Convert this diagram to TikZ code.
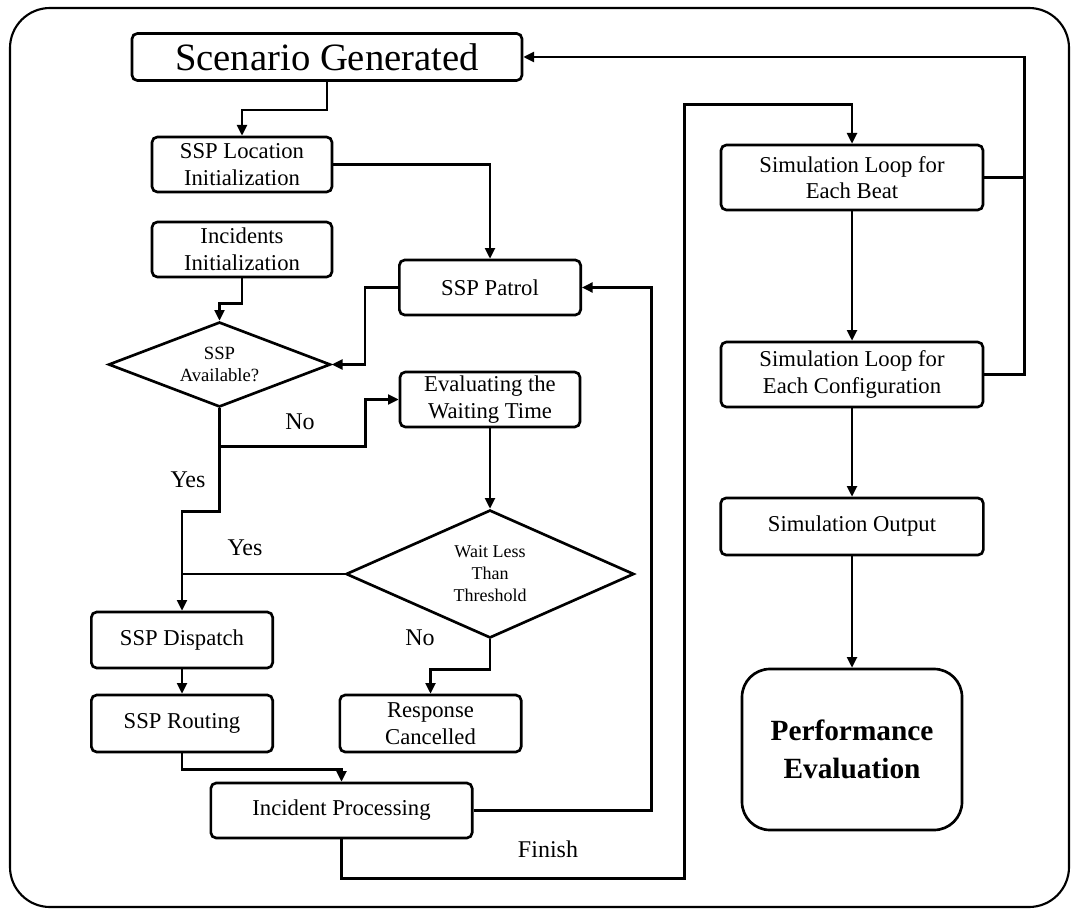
\documentclass[tikz,border=0pt]{standalone}
\usepackage{fontspec}
\setmainfont{Liberation Serif}
\usetikzlibrary{shapes.geometric,arrows.meta,calc}
\tikzset{
  flowbox/.style={draw, line width=2pt, rounded corners=4pt, align=center, inner sep=0pt, font=\fontsize{17}{20}\selectfont},
  choice/.style={draw, diamond, line width=2pt, align=center, inner sep=0pt},
  link/.style={line width=1.8pt, -{Triangle[length=8pt,width=7.5pt]}},
  tag/.style={font=\fontsize{18}{20}\selectfont},
}
\begin{document}
\begin{tikzpicture}[x=0.75pt, y=-0.75pt]
  \useasboundingbox (0,0) rectangle (1073,909);
  % Outer frame
  \draw[line width=1.6pt, rounded corners=30pt] (10,8) rectangle (1069,907);

  % Left part of the flow
  \node[flowbox, minimum width=292.5pt, minimum height=35.25pt, font=\fontsize{29}{32}\selectfont] (scen) at (327,57) {Scenario Generated};
  \node[flowbox, minimum width=135pt, minimum height=41.25pt] (loc) at (242,164.5) {SSP Location\\Initialization};
  \node[flowbox, minimum width=135pt, minimum height=41.25pt] (inc) at (242,249.5) {Incidents\\Initialization};
  \node[flowbox, minimum width=136pt, minimum height=41.25pt] (patrol) at (490,287.5) {SSP Patrol};
  \node[choice, aspect=2.6, minimum width=166.5pt, minimum height=63.75pt, font=\fontsize{14}{16.5}\selectfont] (avail) at (219.5,364.5) {SSP\\Available?};
  \node[flowbox, minimum width=135pt, minimum height=41.25pt] (wait) at (490,399.5) {Evaluating the\\Waiting Time};
  \node[choice, aspect=2.25, minimum width=216pt, minimum height=96pt, font=\fontsize{13.5}{16.5}\selectfont] (thresh) at (490,574) {Wait Less\\Than\\Threshold};
  \node[flowbox, minimum width=136pt, minimum height=42pt] (disp) at (182,640) {SSP Dispatch};
  \node[flowbox, minimum width=136pt, minimum height=42.75pt] (rout) at (182,723.5) {SSP Routing};
  \node[flowbox, minimum width=136pt, minimum height=42.75pt] (canc) at (430.5,723.5) {Response\\Cancelled};
  \node[flowbox, minimum width=196pt, minimum height=41.25pt] (proc) at (341.5,810.5) {Incident Processing};

  % Right part of the flow
  \node[flowbox, minimum width=196.5pt, minimum height=48.75pt] (beat) at (852,177.5) {Simulation Loop for\\Each Beat};
  \node[flowbox, minimum width=196.5pt, minimum height=48.75pt] (conf) at (852,374.5) {Simulation Loop for\\Each Configuration};
  \node[flowbox, minimum width=197pt, minimum height=42.75pt] (out) at (852,526.5) {Simulation Output};
  \node[flowbox, rounded corners=21pt, minimum width=165pt, minimum height=120.75pt, font=\fontsize{22}{28}\selectfont\bfseries] (perf) at (852,749.5) {Performance\\Evaluation};

  % Labels
  \node[tag] (no1) at (300,422) {No};
  \node[tag] (yes1) at (188,480) {Yes};
  \node[tag] (yes2) at (245,548) {Yes};
  \node[tag] (no2) at (420,638) {No};
  \node[tag] (fin) at (548,849) {Finish};

  % Connectors
  \draw[link] (scen.south) -- ++(0,28) -| (loc.north);
  \draw[link] (loc.east) -| (patrol.north);
  \draw[link] (inc.south) -- ++(0,25) -| (avail.north);
  \draw[link] (patrol.west) -- ++(-33,0) |- (avail.east);
  \coordinate (split) at ($(avail.south)+(0,38)$);
  \draw[link] (avail.south) -- (split) -| ($(wait.west)+(-33,0)$) -- (wait.west);
  \draw[link] (split) -- ++(0,65) -| (disp.north);
  \draw[link] (wait.south) -- (thresh.north);
  \draw[line width=1.8pt] (thresh.west) -- (thresh.west -| disp.north);
  \draw[link] (thresh.south) -- ++(0,30) -| (canc.north);
  \draw[link] (disp.south) -- (rout.north);
  \draw[link] (rout.south) -- ++(0,16) -| (proc.north);
  \draw[link] (proc.east) -- ++(178,0) |- (patrol.east);
  \draw[link] (proc.south) -- ++(0,39) -| ($(beat.north)+(-167.5,-39)$) -| (beat.north);
  \draw[link] (beat.south) -- (conf.north);
  \draw[link] (conf.south) -- (out.north);
  \draw[link] (out.south) -- (perf.north);
  \draw[line width=1.8pt] (beat.east) -- ++(40,0);
  \draw[link] (conf.east) -- ++(40,0) |- (scen.east);
\end{tikzpicture}
\end{document}
